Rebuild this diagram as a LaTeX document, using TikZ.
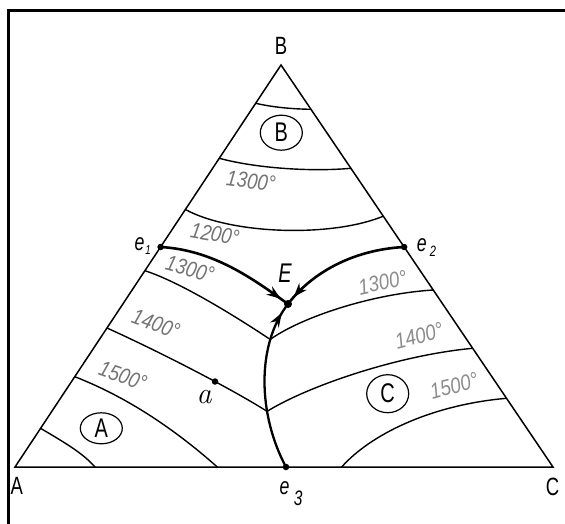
\documentclass[tikz,border=0pt]{standalone}
\usepackage{graphicx}
\usepackage{fontspec}
\newfontfamily\hand{Liberation Sans}
\newcommand\nrw[2][0.74]{\scalebox{#1}[1]{#2}}
\usetikzlibrary{shapes.geometric,decorations.markings,arrows.meta,calc}
\begin{document}
\begin{tikzpicture}[x=1pt,y=-1pt,
  edge/.style={line width=1.5pt},
  iso/.style={line width=1.4pt},
  bound/.style={line width=2.6pt},
  dot/.style={circle,fill,inner sep=0pt,minimum size=6.5pt},
  bigdot/.style={circle,fill,inner sep=0pt,minimum size=8pt},
  vlab/.style={font=\hand\fontsize{25}{25}\selectfont, inner sep=0pt},
  elab/.style={font=\hand\itshape\fontsize{24}{24}\selectfont, inner sep=0pt},
  circlab/.style={draw,ellipse,line width=1.2pt,inner sep=0pt,minimum width=42pt,
     font=\hand\fontsize{27}{27}\selectfont},
  temp/.style={font=\hand\itshape\fontsize{22}{22}\selectfont, text=black!55, inner sep=0pt},
  flowarrow/.style={postaction={decorate,decoration={markings,
     mark=at position #1 with {\arrow{Stealth[length=14pt,width=10pt,inset=4.5pt]}}}}},
  flowarrow/.default=-9pt]
\useasboundingbox (0,0) rectangle (565,524);
% frame
\draw[line width=2.6pt] (8.3,540) -- (8.3,10.7) -- (580,10.7);
% triangle
\coordinate (A) at (15,467);
\coordinate (B) at (281,65);
\coordinate (C) at (553,467);
\draw[edge] (A) -- (B) -- (C) -- cycle;
% key points
\coordinate (e1) at (160.6,247);
\coordinate (e2) at (404.1,247);
\coordinate (e3) at (286,467);
\coordinate (E) at (288,304);
\coordinate (a) at (215,381.5);
% points on the e3-E boundary
\path (e3) .. controls (258,415) and (256,345) .. (E)
   coordinate[pos=0.33] (m14) coordinate[pos=0.75] (m13);
% isotherms, B field
\draw[iso] (255.7,103.3) .. controls (274,107.5) and (293,109) .. (311,109.3);
\draw[iso] (219.3,158.3) .. controls (255,168) and (310,172) .. (350.9,168.3);
\draw[iso] (185.4,209.5) .. controls (230,234) and (330,238) .. (383.3,216.2);
% isotherms, A field
\draw[iso] (144.9,270.7) .. controls (180,282) and (235,316) .. (m13);
\draw[iso] (107,328) .. controls (160,352) and (230,388) .. (m14);
\draw[iso] (74.75,376.7) .. controls (122,395) and (170,425) .. (217.3,467);
\draw[iso] (40.6,428.3) .. controls (60,440) and (82,452) .. (95,467);
% isotherms, C field
\draw[iso] (m13) .. controls (300,318) and (370,294) .. (433.2,290);
\draw[iso] (m14) .. controls (310,385) and (400,355) .. (472.7,348.3);
\draw[iso] (341.7,467) .. controls (370,435) and (430,405) .. (506.5,398.3);
% boundary curves
\draw[bound,flowarrow] (e1) .. controls (213,250) and (252,278) .. (E);
\draw[bound,flowarrow] (e2) .. controls (350,250) and (310,275) .. (E);
\draw[bound,line width=2.3pt,flowarrow=-11pt] (e3) .. controls (258,415) and (256,345) .. (E);
% dots
\node[dot] (e1dot) at (e1) {};
\node[dot] (e2dot) at (e2) {};
\node[dot] (e3dot) at (e3) {};
\node[dot] (adot) at (a) {};
\node[bigdot] (Edot) at (E) {};
% vertex labels
\node[vlab] (lA) at (16.7,485.7) {\nrw{A}};
\node[vlab] (lB) at (281,46) {\nrw{B}};
\node[vlab] (lC) at (552.5,487.3) {\nrw{C}};
% e labels
\node[elab] (le1) at (139.5,244.5) {\nrw{e}};
\node[elab,font=\hand\itshape\fontsize{13}{13}\selectfont] (le1s) at (148,250) {\nrw{1}};
\node[elab] (le2) at (421.7,245) {\nrw{e}};
\node[elab,font=\hand\itshape\fontsize{15}{15}\selectfont] (le2s) at (433,251.7) {\nrw{2}};
\node[elab] (le3) at (284.5,488.3) {\nrw{e}};
\node[elab,font=\hand\itshape\fontsize{21}{21}\selectfont] (le3s) at (298.3,498.3) {\nrw{3}};
\node[elab,font=\hand\itshape\fontsize{27}{27}\selectfont] (lE) at (285,273.3) {\nrw{E}};
\node[inner sep=0pt,font=\fontsize{30}{30}\selectfont\itshape] (la) at (204,396.7) {a};
% circled field labels
\node[circlab,minimum height=35pt] (cB) at (281.3,132.7) {\nrw{B}};
\node[circlab,minimum height=31pt] (cA) at (101.3,428.3) {\nrw{A}};
\node[circlab,minimum height=38pt] (cC) at (387.7,393.7) {\nrw{C}};
% temperature labels
\node[rotate=-7,temp] (t1) at (251,181) {\nrw[0.85]{1300°}};
\node[rotate=-10,temp] (t2) at (215,234) {\nrw[0.85]{1200°}};
\node[rotate=-15,temp] (t3) at (190,269) {\nrw[0.85]{1300°}};
\node[rotate=-20,temp] (t4) at (156,324) {\nrw[0.85]{1400°}};
\node[rotate=-20,temp] (t5) at (123,376) {\nrw[0.85]{1500°}};
\node[rotate=12,temp,text=black!45] (t6) at (382.5,282.5) {\nrw[0.85]{1300°}};
\node[rotate=15,temp,text=black!45] (t7) at (419,336) {\nrw[0.85]{1400°}};
\node[rotate=15,temp,text=black!45] (t8) at (454,386) {\nrw[0.85]{1500°}};
\end{tikzpicture}
\end{document}
